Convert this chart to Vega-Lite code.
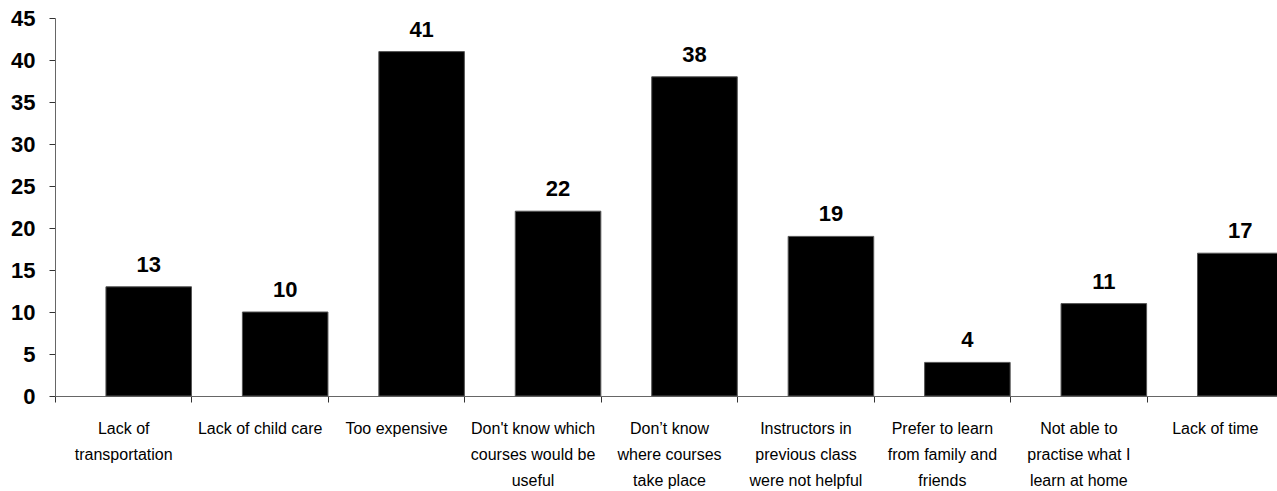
{
  "$schema": "https://vega.github.io/schema/vega-lite/v6.json",
  "autosize": "none",
  "width": 1222,
  "height": 378,
  "padding": {"left": 55, "top": 18, "right": 0, "bottom": 95},
  "background": "white",
  "config": {"view": {"stroke": null}},
  "data": {
    "values": [
      {"reason": "Lack of\ntransportation", "value": 13},
      {"reason": "Lack of child care", "value": 10},
      {"reason": "Too expensive", "value": 41},
      {"reason": "Don't know which\ncourses would be\nuseful", "value": 22},
      {"reason": "Don\u2019t know\nwhere courses\ntake place", "value": 38},
      {"reason": "Instructors in\nprevious class\nwere not helpful", "value": 19},
      {"reason": "Prefer to learn\nfrom family and\nfriends", "value": 4},
      {"reason": "Not able to\npractise what I\nlearn at home", "value": 11},
      {"reason": "Lack of time", "value": 17}
    ]
  },
  "encoding": {
    "x": {
      "field": "reason",
      "type": "nominal",
      "sort": null,
      "scale": {"range": [0, 1228], "paddingInner": 0, "paddingOuter": 0},
      "axis": {
        "title": null,
        "labelAngle": 0,
        "tickBand": "extent",
        "tickSize": 6,
        "tickColor": "#333",
        "domainColor": "#666",
        "labelFont": "Liberation Sans",
        "labelFontSize": 16,
        "labelLineHeight": 26,
        "labelPadding": 18,
        "labelBaseline": "top",
        "labelColor": "black",
        "labelLimit": 0,
        "labelExpr": "split(datum.label, '\\n')"
      }
    },
    "y": {
      "field": "value",
      "type": "quantitative",
      "scale": {"domain": [0, 45], "nice": false},
      "axis": {
        "title": null,
        "grid": false,
        "values": [0, 5, 10, 15, 20, 25, 30, 35, 40, 45],
        "tickSize": 6,
        "tickColor": "#333",
        "domainColor": "#666",
        "labelFont": "Liberation Sans",
        "labelFontWeight": "bold",
        "labelFontSize": 22,
        "labelPadding": 14,
        "labelColor": "black"
      }
    }
  },
  "layer": [
    {
      "mark": {"type": "bar", "width": {"band": 0.627}, "xOffset": 25.5, "color": "black", "stroke": "#555", "strokeWidth": 1}
    },
    {
      "mark": {"type": "text", "xOffset": 25.5, "dy": -15, "baseline": "alphabetic", "font": "Liberation Sans", "fontWeight": "bold", "fontSize": 22, "color": "black"},
      "encoding": {"text": {"field": "value", "type": "quantitative"}}
    }
  ]
}
